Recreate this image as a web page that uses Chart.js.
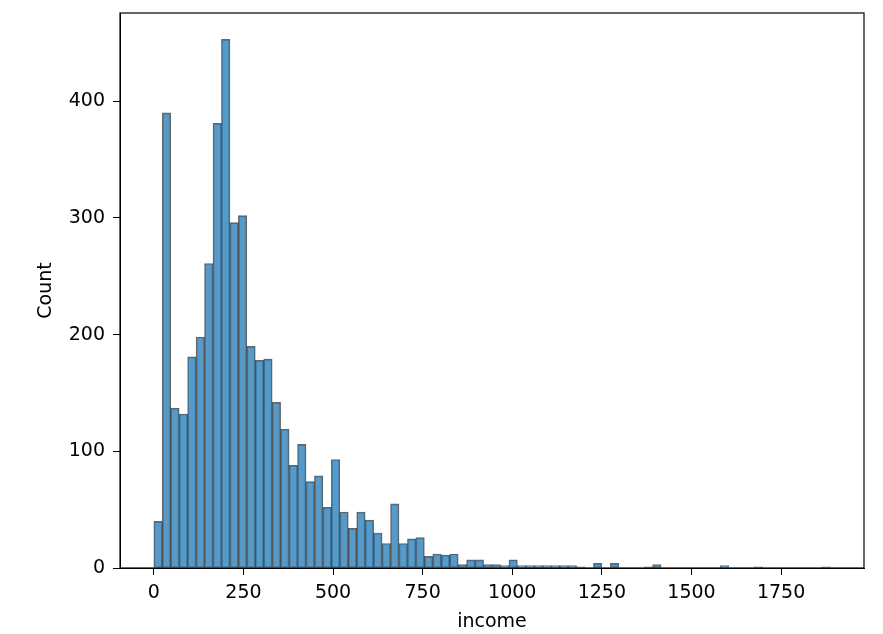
<!DOCTYPE html>
<html>
<head>
<meta charset="utf-8">
<script src="https://cdn.jsdelivr.net/npm/chart.js@4"></script>
<style>
  html, body { margin: 0; padding: 0; background: #fff; }
  #wrap { width: 883px; height: 634px; }
</style>
</head>
<body>
<div id="wrap"><canvas id="myChart"></canvas></div>
<script>
// histogram of income, 80 equal bins
const incomeMin = 0;
const incomeMax = 1887;
const binCount = 80;
const counts = [
	40, 390, 137, 132, 181, 198, 261, 381, 453, 296,
	302, 190, 178, 179, 142, 119, 88, 106, 74, 79,
	52, 93, 48, 34, 48, 41, 30, 21, 55, 21,
	25, 26, 10, 12, 11, 12, 3, 7, 7, 3,
	3, 2, 7, 2, 2, 2, 2, 2, 2, 2,
	1, 0, 4, 0, 4, 0, 0, 0, 1, 3,
	0, 0, 0, 0, 0, 0, 0, 2, 0, 0,
	0, 1, 0, 0, 0, 0, 0, 0, 0, 1,
];
const xTicks = [0, 250, 500, 750, 1000, 1250, 1500, 1750];
const yTicks = [0, 100, 200, 300, 400];

const binWidth = (incomeMax - incomeMin) / binCount;
const points = counts.map((c, i) => ({ x: incomeMin + (i + 0.5) * binWidth, y: c }));
const maxCount = Math.max(...counts);

const font = { family: "DejaVu Sans", size: 19 };

// matplotlib style frame on all four sides
const frame = {
	id: "frame",
	afterDraw(chart) {
		const { ctx, chartArea: a } = chart;
		ctx.save();
		ctx.strokeStyle = "#000";
		ctx.lineWidth = 1.2;
		ctx.strokeRect(a.left, a.top, a.right - a.left, a.bottom - a.top);
		ctx.restore();
	},
};

new Chart(document.getElementById("myChart"), {
	type: "bar",
	data: {
		datasets: [
			{
				data: points,
				backgroundColor: "rgba(31,119,180,0.75)",
				borderColor: "rgba(0,0,0,0.6)",
				borderWidth: 1,
				borderSkipped: false,
				barPercentage: 1,
				categoryPercentage: 1,
			},
		],
	},
	options: {
		responsive: true,
		maintainAspectRatio: false,
		animation: false,
		layout: { padding: { top: 13, right: 19, left: 0, bottom: 0 } },
		scales: {
			x: {
				type: "linear",
				offset: false,
				min: incomeMin - 0.05 * (incomeMax - incomeMin),
				max: incomeMax + 0.05 * (incomeMax - incomeMin),
				afterBuildTicks: (s) => { s.ticks = xTicks.map((v) => ({ value: v })); },
				afterFit: (s) => { s.height = 66; s.paddingLeft = 0; s.paddingRight = 0; },
				ticks: { color: "#000", font: font, padding: 7, maxRotation: 0, autoSkip: false, callback: (v) => String(v) },
				grid: { display: true, offset: false, drawOnChartArea: false, drawTicks: true, tickLength: 7, color: "#000" },
				border: { display: true, color: "#000" },
				title: { display: true, text: "income", color: "#000", font: font, padding: { top: 0, bottom: 1 } },
			},
			y: {
				min: 0,
				max: maxCount * 1.05,
				afterBuildTicks: (s) => { s.ticks = yTicks.map((v) => ({ value: v })); },
				afterFit: (s) => { s.width = 120; s.paddingTop = 0; s.paddingBottom = 0; },
				ticks: { color: "#000", font: font, padding: 8 },
				grid: { display: true, drawOnChartArea: false, drawTicks: true, tickLength: 7, color: "#000" },
				border: { display: true, color: "#000" },
				title: { display: true, text: "Count", color: "#000", font: font, padding: { top: 35, bottom: 0 } },
			},
		},
		plugins: {
			legend: { display: false },
			tooltip: { enabled: false },
		},
	},
	plugins: [frame],
});
</script>
</body>
</html>
